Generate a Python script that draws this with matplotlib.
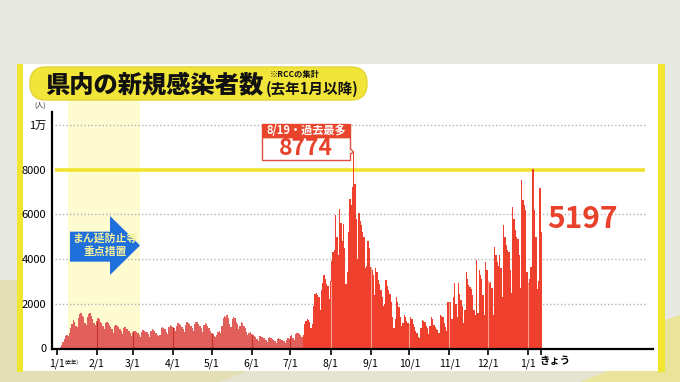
import numpy as np
import matplotlib
matplotlib.use("Agg")
import matplotlib.pyplot as plt
from matplotlib.patches import Rectangle, FancyBboxPatch, Polygon

plt.rcParams['font.family'] = ['Noto Sans CJK JP', 'DejaVu Sans']
NARROW = ['Liberation Sans Narrow', 'Noto Sans CJK JP', 'DejaVu Sans']

# daily new cases, 2022/1/1 .. 2023/1/11
jan22 = [20, 30, 40, 60, 140, 270, 430, 550, 620, 560, 700, 900, 1100, 1270, 1200, 1000,
         950, 1350, 1550, 1580, 1450, 1400, 1150, 1050, 1400, 1550, 1570, 1450, 1300, 1150, 1050]
feb22 = [1250, 1350, 1300, 1200, 1150, 1000, 850, 1150, 1200, 1150, 1050, 950, 850, 700,
         1000, 1050, 1000, 950, 850, 800, 650, 900, 950, 880, 850, 800, 700, 550]
mar22 = [750, 800, 780, 740, 700, 620, 500, 760, 820, 800, 760, 720, 650, 520, 800, 850,
         830, 780, 700, 620, 550, 600, 900, 950, 920, 870, 760, 650, 950, 1050, 1000]
apr22 = [980, 900, 780, 1000, 1150, 1100, 1050, 980, 880, 750, 1050, 1200, 1150, 1080, 1000,
         900, 780, 1100, 1200, 1180, 1100, 1000, 900, 760, 1050, 1150, 1100, 1000, 900, 800]
may22 = [700, 650, 550, 500, 600, 750, 800, 700, 1000, 1350, 1450, 1400, 1480, 1350, 1100,
         950, 1300, 1400, 1350, 1200, 1100, 850, 1000, 1200, 1150, 1000, 900, 750, 600, 700, 750]
jun22 = [650, 600, 550, 500, 420, 350, 550, 580, 520, 480, 450, 400, 300, 480, 500, 450,
         430, 400, 350, 260, 420, 450, 420, 400, 380, 330, 250, 400, 450, 430]
jul22 = [550, 600, 450, 400, 650, 700, 680, 650, 620, 500, 600, 1100, 1250, 1300, 1280, 1200,
         900, 1100, 1900, 2450, 2500, 2400, 2300, 1700, 2600, 2950, 3300, 3100, 2900, 2800, 2200]
aug22 = [3000, 3900, 4300, 4400, 5950, 5000, 4200, 6250, 5600, 4800, 5590, 4500, 2900, 3400,
         5200, 6700, 6400, 7230, 8774, 7380, 5800, 4000, 6040, 5700, 5520, 5200, 5000, 3600,
         3700, 4800, 4500]
sep22 = [3650, 3500, 3300, 2400, 3580, 3400, 3060, 2900, 2610, 2300, 1900, 2000, 3060, 2800,
         2600, 2460, 2100, 1400, 900, 1300, 2310, 2100, 1860, 1400, 1000, 1120, 1490, 1400,
         1250, 1120]
oct22 = [1100, 1420, 1300, 1100, 970, 800, 700, 520, 450, 900, 1270, 1250, 1190, 1000, 900,
         670, 1000, 1420, 1300, 1040, 950, 850, 820, 700, 1490, 1450, 1420, 1150, 970, 800, 2090]
nov22 = [2090, 2090, 1300, 2310, 2910, 2010, 1400, 2910, 2460, 2160, 1900, 1120, 1700, 3430,
         3100, 2830, 2750, 2680, 2400, 1700, 1500, 3950, 1600, 3500, 3300, 3100, 2400, 1500,
         3880, 3500]
dec22 = [3000, 2950, 2980, 2700, 1500, 4550, 4200, 3880, 3700, 4180, 3600, 2310, 5520, 5000,
         4620, 4400, 4330, 3500, 2500, 6340, 5800, 5300, 5000, 4920, 4200, 2700, 7530, 6640,
         6400, 6190, 3400]
jan23 = [2910, 3100, 3650, 8050, 8050, 6190, 5000, 2680, 3000, 7160, 5197]

cases = jan22 + feb22 + mar22 + apr22 + may22 + jun22 + jul22 + aug22 + sep22 + oct22 + nov22 + dec22 + jan23
days = np.arange(len(cases))

month_starts = [0, 31, 59, 90, 120, 151, 181, 212, 243, 273, 304, 334, 365]
month_labels = ['1/1', '2/1', '3/1', '4/1', '5/1', '6/1', '7/1', '8/1', '9/1', '10/1', '11/1', '12/1', '1/1']
today_label = 'きょう'
wave7_start = 191          # bars drawn brighter from here
peak_idx = 230             # 8/19
peak_label = '8/19・過去最多'
emergency_span = (8.5, 64.5)   # まん延防止等重点措置

LIGHT = '#e2605b'
BRIGHT = '#ef3f2d'
RED_TXT = '#e8412c'

fig = plt.figure(figsize=(6.8, 3.82), dpi=100, facecolor='#e9e9e4')

# background in pixel coordinates
bg = fig.add_axes([0, 0, 1, 1], zorder=0)
bg.set_xlim(0, 680)
bg.set_ylim(382, 0)
bg.axis('off')
bg.add_patch(Rectangle((0, 366), 680, 16, fc='#e5e4d2', ec='none'))
bg.add_patch(Polygon([(0, 382), (0, 280), (17, 280), (17, 370), (250, 370), (220, 382)], fc='#e2e0b4', ec='none'))
bg.add_patch(Polygon([(580, 382), (610, 370), (665, 370), (665, 320), (680, 315), (680, 382)], fc='#e9e49a', ec='none'))
bg.add_patch(Rectangle((22, 64), 638, 307, fc='white', ec='none'))
bg.add_patch(Rectangle((17, 64), 6, 308, fc='#f2e52f', ec='none'))
bg.add_patch(Rectangle((658, 64), 7, 308, fc='#f2e52f', ec='none'))

# main chart
ax = fig.add_axes([52 / 680, 33.5 / 382, 601 / 680, 236.5 / 382], zorder=1)
ax.patch.set_alpha(0)
ax.set_xlim(-3.5, 461.5)
ax.set_ylim(0, 10580)

ax.add_patch(Rectangle((emergency_span[0], 0), emergency_span[1] - emergency_span[0], 11150,
                       fc='#fdfbcf', ec='none', zorder=0, clip_on=False))
ax.hlines([2000, 4000, 6000, 10000], -1.2, 455.3, colors='#b4b4b4', linestyles=(0, (1, 1.6)),
          lw=1, zorder=1)
ax.hlines(8000, -1.2, 455.3, colors='#f0e32c', lw=2.6, zorder=1.5)

colors = [LIGHT if d < wave7_start else BRIGHT for d in days]
ax.bar(days, cases, width=1.0, color=colors, linewidth=0, zorder=2)
ms = np.array(month_starts)
mv = np.array([cases[m] for m in month_starts])
ax.vlines(ms[ms < wave7_start], 0, mv[ms < wave7_start], colors='#c9302c', lw=0.8, zorder=2.5)
ax.vlines(ms[ms >= wave7_start], 0, mv[ms >= wave7_start], colors='#f8a090', lw=0.8, zorder=2.5)

for s in ['top', 'right']:
    ax.spines[s].set_visible(False)
ax.spines['left'].set_linewidth(1.6)
ax.spines['bottom'].set_linewidth(1.6)

ax.set_yticks([0, 2000, 4000, 6000, 8000, 10000])
ax.set_yticklabels(['0', '2000', '4000', '6000', '8000', '1万'], family=NARROW, fontsize=8)
ax.tick_params(axis='y', length=0, pad=4)
ax.set_xticks(month_starts + [len(cases) - 1])
ax.set_xticklabels(month_labels + [''], family=NARROW, fontsize=7.5)
ax.tick_params(axis='x', length=4, width=1.2, pad=3, direction='out')
ax.text(len(cases) - 2.5, -330, today_label, fontsize=7.5, fontweight='bold', ha='left', va='top')
ax.text(6.3, -470, '(去年)', fontsize=3.8, ha='left', va='top')
ax.text(-13, 10700, '(人)', fontsize=5, ha='center', va='bottom', color='#222222', clip_on=False)

# まん延防止等重点措置 arrow
ax.add_patch(Polygon([(10.4, 5226), (41.4, 5226), (41.4, 5928), (64.6, 4609),
                      (41.4, 3289), (41.4, 3884), (10.4, 3884)], fc='#1f6fdc', ec='none', zorder=3))
ax.text(37.5, 4944, 'まん延防止等', fontsize=7.8, fontweight='bold', color='#f6f29a',
        ha='center', va='center', zorder=4)
ax.text(37.5, 4318, '重点措置', fontsize=7.8, fontweight='bold', color='#f6f29a',
        ha='center', va='center', zorder=4)

# peak callout
bx0, bx1 = peak_idx - 71, peak_idx - 2.9
ax.add_patch(Rectangle((bx0, 8434), bx1 - bx0, 1043, fc='white', ec='#e05040', lw=1, zorder=5, clip_on=False))
ax.add_patch(Rectangle((bx0, 9477), bx1 - bx0, 568, fc='#e8452c', ec='#e8452c', lw=1, zorder=5, clip_on=False))
ax.add_patch(Polygon([(bx1, 8950), (peak_idx, cases[peak_idx]), (bx1, 8700)], closed=False,
                     fc='white', ec='#e05040', lw=1, zorder=6, clip_on=False))
ax.text((bx0 + bx1) / 2, 9761, peak_label, fontsize=8, fontweight='bold', color='white',
        ha='center', va='center', zorder=7)
ax.text((bx0 + bx1) / 2, 8955, f'{cases[peak_idx]}', fontsize=16.5, fontweight='bold',
        color=RED_TXT, ha='center', va='center', zorder=7)

# latest value
ax.text(len(cases) + 3.5, 5794, f'{cases[-1]}', fontsize=21.5, fontweight='bold',
        color=RED_TXT, ha='left', va='center', zorder=7)

# title pill
fg = fig.add_axes([0, 0, 1, 1], zorder=3)
fg.set_xlim(0, 680)
fg.set_ylim(382, 0)
fg.axis('off')
fg.add_patch(FancyBboxPatch((30, 67), 337, 33, boxstyle='round,pad=0,rounding_size=16',
                            fc='#f2e53a', ec='#e2d530', lw=1))
fg.text(45, 85, '県内の新規感染者数', fontsize=17.5, fontweight='black', ha='left', va='center', color='#111111')
fg.text(270, 75, '※RCCの集計', fontsize=6, fontweight='bold', ha='left', va='center', color='#111111')
fg.text(266, 89, '(去年1月以降)', fontsize=10.5, fontweight='bold', ha='left', va='center', color='#111111')

fig.savefig('out.png', dpi=100, facecolor=fig.get_facecolor())
